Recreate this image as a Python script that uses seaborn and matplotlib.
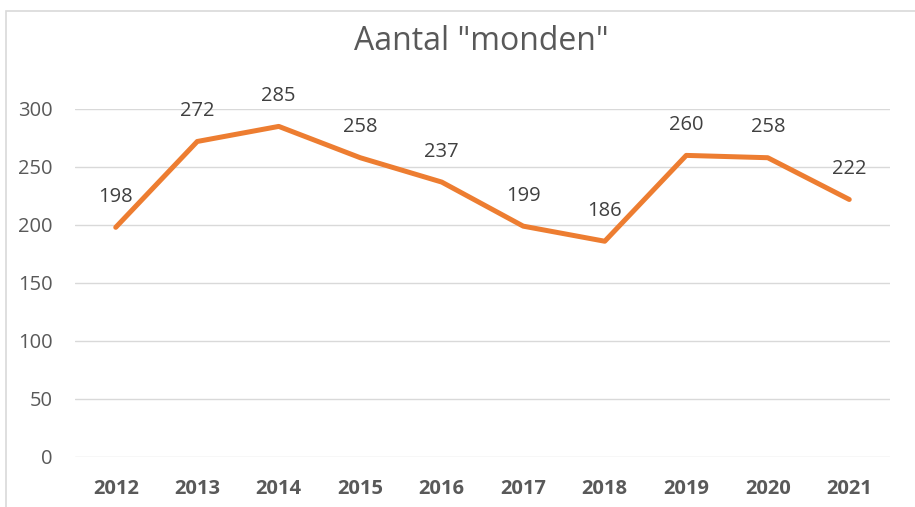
import matplotlib
matplotlib.use("Agg")
import matplotlib.pyplot as plt
import seaborn as sns
import pandas as pd
from matplotlib.patches import Rectangle

years = ["2012", "2013", "2014", "2015", "2016", "2017", "2018", "2019", "2020", "2021"]
values = [198, 272, 285, 258, 237, 199, 186, 260, 258, 222]
yticks = [0, 50, 100, 150, 200, 250, 300]
title = 'Aantal "monden"'

sns.set_theme(style="white")
plt.rcParams["font.family"] = ["Open Sans", "DejaVu Sans"]

W, H = 915, 507
fig = plt.figure(figsize=(W / 100, H / 100), dpi=100)
ax = fig.add_axes([75 / W, 50 / H, (890 - 75) / W, (457 - 109) / H])

df = pd.DataFrame({"year": years, "value": values})
df["pos"] = range(len(years))
sns.lineplot(data=df, x="pos", y="value", ax=ax, color="#ED7D31", linewidth=3.6)

for x, v in zip(df["pos"], values):
    ax.annotate(str(v), (x, v), xytext=(0, 22), textcoords="offset points",
                ha="center", va="center", fontsize=14.5, color="#404040")

ax.set_xlim(-0.5, len(years) - 0.5)
ax.set_ylim(0, 300)
ax.set_yticks(yticks)
ax.set_yticklabels([str(t) for t in yticks], fontsize=14.5, color="#595959")
ax.set_xticks(list(df["pos"]))
ax.set_xticklabels(years, fontsize=14.5, fontweight="bold", color="#595959")
ax.tick_params(axis="y", length=0, pad=16)
ax.tick_params(axis="x", length=0, pad=16)
ax.grid(axis="y", color="#D9D9D9", linewidth=1)
ax.set_axisbelow(True)
for s in ax.spines.values():
    s.set_visible(False)
ax.set_xlabel("")
ax.set_ylabel("")

fig.text(481 / W, 1 - 42 / H, title, ha="center", va="center", fontsize=23, color="#595959")

fig.patches.append(Rectangle((6 / W, -0.1), 1.0, 1 - 11 / H + 0.1, transform=fig.transFigure,
                             fill=False, edgecolor="#D9D9D9", linewidth=1.2))

fig.savefig("out.png", dpi=100)
